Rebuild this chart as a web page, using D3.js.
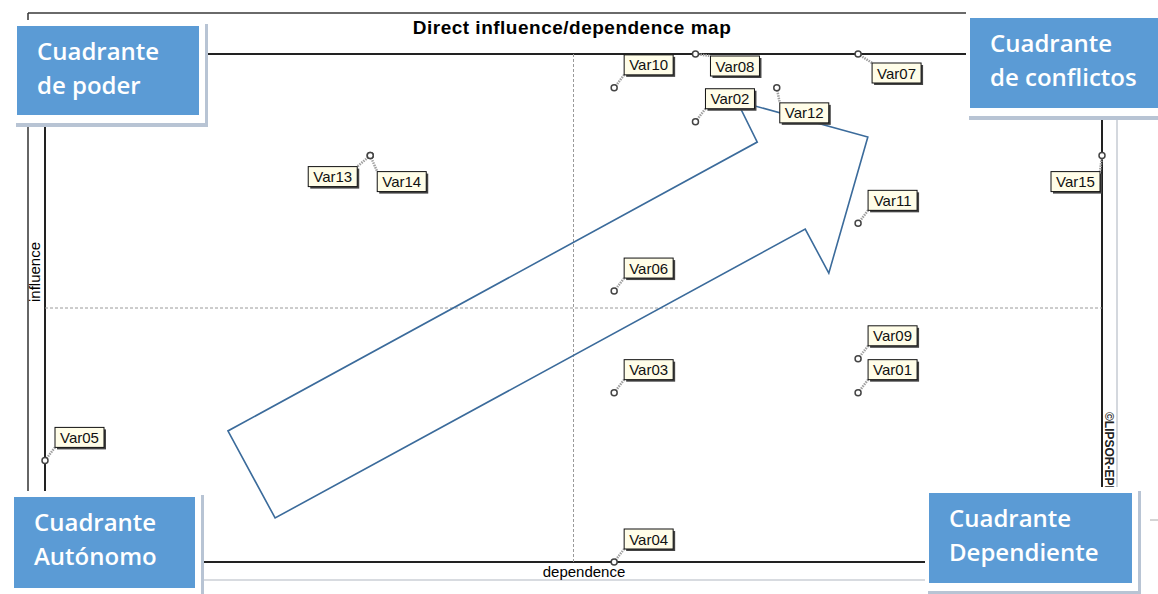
<!DOCTYPE html>
<meta charset="utf-8">
<html lang="es">

<head>
    <title>Direct influence/dependence map</title>
    <script src="https://d3js.org/d3.v7.min.js"></script>
    <style>
        body {
            margin: 0;
            background-color: #fff;
        }

        svg {
            display: block;
        }

        .frame line {
            stroke: #222;
            stroke-width: 1.5;
            shape-rendering: crispEdges;
        }

        .mid line {
            stroke: #9a9a9a;
            stroke-width: 1;
            stroke-dasharray: 3, 2;
        }

        .lbl text {
            font: 15px "Liberation Sans", Arial, sans-serif;
            fill: #111;
        }

        .quad text {
            font-family: "Open Sans", Lato, sans-serif;
            font-weight: 600;
            font-size: 24px;
            fill: #fff;
        }
    </style>
</head>

<body>
    <svg width="1158" height="594"></svg>
    <script>
        // Variables of the map
        var variables = ["Var01", "Var02", "Var03", "Var04", "Var05", "Var06", "Var07", "Var08",
            "Var09", "Var10", "Var11", "Var12", "Var13", "Var14", "Var15"];
        var dependence = [10, 8, 7, 7, 0, 7, 10, 8, 10, 7, 10, 9, 4, 4, 13];
        var influence = [5, 13, 5, 0, 3, 8, 15, 15, 6, 14, 10, 14, 12, 12, 12];

        // Axis ranges of the map
        var dependenceRange = [0, 13];
        var influenceRange = [0, 15];

        // Texts
        var chartTitle = "Direct influence/dependence map";
        var xTitle = "dependence";
        var yTitle = "influence";
        var credit = "\u00A9LIPSOR-EPITA-MICMAC";
        var quadrantTitles = [
            ["Cuadrante", "de poder"],
            ["Cuadrante", "de conflictos"],
            ["Cuadrante", "Autónomo"],
            ["Cuadrante", "Dependiente"]
        ];

        // Hand drawn arrow, in map units
        var arrowDep = [2.25, 2.83, 9.35, 9.64, 10.12, 8.51, 8.76];
        var arrowInf = [3.87, 1.30, 9.83, 8.53, 12.55, 13.61, 12.40];

        var svg = d3.select("svg"),
            margin = { top: 54, right: 56, bottom: 32, left: 45 },
            width = +svg.attr("width") - margin.left - margin.right,
            height = +svg.attr("height") - margin.top - margin.bottom;

        var x = d3.scaleLinear().domain(dependenceRange).range([margin.left, margin.left + width]);
        var y = d3.scaleLinear().domain(influenceRange).range([margin.top + height, margin.top]);

        // Where each label box sits compared to its point
        var labelOffset = {
            Var07: [14, 9], Var08: [15, 2], Var12: [3, 15],
            Var13: [-62, 11], Var14: [7, 16], Var15: [-51, 16]
        };
        var boxW = 49, boxH = 20;

        // Outer panel
        var outer = svg.append("g");
        outer.append("line").attr("x1", 28).attr("x2", 970).attr("y1", 13).attr("y2", 13)
            .style("stroke", "#6a6a6a").style("stroke-width", 2);
        outer.append("line").attr("x1", 28).attr("x2", 28).attr("y1", 13).attr("y2", 580)
            .style("stroke", "#333").style("stroke-width", 1.5);
        outer.append("line").attr("x1", 1117).attr("x2", 1117).attr("y1", 13).attr("y2", 580)
            .style("stroke", "#d4d8de").style("stroke-width", 2);
        outer.append("line").attr("x1", 28).attr("x2", 1117).attr("y1", 580).attr("y2", 580)
            .style("stroke", "#d8dbe0").style("stroke-width", 2);
        outer.append("line").attr("x1", 1150).attr("x2", 1158).attr("y1", 520).attr("y2", 520)
            .style("stroke", "#aaa").style("stroke-width", 1);

        // Plot frame
        var frame = svg.append("g").attr("class", "frame");
        [[x(dependenceRange[0]), y(influenceRange[1]), x(dependenceRange[1]), y(influenceRange[1])],
         [x(dependenceRange[0]), y(influenceRange[0]), x(dependenceRange[1]), y(influenceRange[0])],
         [x(dependenceRange[0]), y(influenceRange[0]), x(dependenceRange[0]), y(influenceRange[1])],
         [x(dependenceRange[1]), y(influenceRange[0]), x(dependenceRange[1]), y(influenceRange[1])]]
            .forEach(function (l) {
                frame.append("line").attr("x1", l[0]).attr("y1", l[1]).attr("x2", l[2]).attr("y2", l[3]);
            });

        // Middle dashed lines
        var midX = d3.mean(dependenceRange), midY = d3.mean(influenceRange);
        var mid = svg.append("g").attr("class", "mid");
        mid.append("line").attr("x1", x(midX)).attr("x2", x(midX))
            .attr("y1", y(influenceRange[0])).attr("y2", y(influenceRange[1]));
        mid.append("line").attr("x1", x(dependenceRange[0])).attr("x2", x(dependenceRange[1]))
            .attr("y1", y(midY)).attr("y2", y(midY));

        // Title and axis names
        svg.append("text")
            .attr("x", 572).attr("y", 34)
            .attr("text-anchor", "middle")
            .style("font", "bold 19px 'Liberation Sans', Arial, sans-serif")
            .style("letter-spacing", "0.5px")
            .text(chartTitle);

        svg.append("text")
            .attr("x", 584).attr("y", 577)
            .attr("text-anchor", "middle")
            .style("font", "15px 'Liberation Sans', Arial, sans-serif")
            .text(xTitle);

        svg.append("text")
            .attr("transform", "translate(40,272)rotate(-90)")
            .attr("text-anchor", "middle")
            .style("font", "15px 'Liberation Sans', Arial, sans-serif")
            .text(yTitle);

        svg.append("text")
            .attr("transform", "translate(1105,412)rotate(90)")
            .style("font", "bold 12px 'Liberation Sans', Arial, sans-serif")
            .style("fill", "#222")
            .text(credit);

        // Arrow
        var arrowPts = arrowDep.map(function (d, i) { return [x(d), y(arrowInf[i])]; });
        svg.append("path")
            .attr("d", d3.line()(arrowPts) + "Z")
            .style("fill", "none")
            .style("stroke", "#3b6b9b")
            .style("stroke-width", 1.6)
            .style("stroke-linejoin", "miter");

        // Points and their labels
        var data = variables.map(function (name, i) {
            var off = labelOffset[name] || [10, -33];
            var px = x(dependence[i]), py = y(influence[i]);
            return { name: name, px: px, py: py, bx: px + off[0], by: py + off[1] };
        });

        var lbl = svg.append("g").attr("class", "lbl");

        // leader lines, to the nearest point of the box
        lbl.selectAll(".leader")
            .data(data)
            .enter().append("line")
            .attr("x1", function (d) { return d.px; })
            .attr("y1", function (d) { return d.py; })
            .attr("x2", function (d) { return Math.max(d.bx, Math.min(d.px, d.bx + boxW)); })
            .attr("y2", function (d) { return Math.max(d.by, Math.min(d.py, d.by + boxH)); })
            .style("stroke", "#a0a0a0")
            .style("stroke-width", 2.5)
            .style("stroke-dasharray", "1.5,1");

        lbl.selectAll(".pt")
            .data(data)
            .enter().append("circle")
            .attr("cx", function (d) { return d.px; })
            .attr("cy", function (d) { return d.py; })
            .attr("r", 3)
            .style("fill", "#fff")
            .style("stroke", "#444")
            .style("stroke-width", 1.5);

        var box = lbl.selectAll(".box")
            .data(data)
            .enter().append("g")
            .attr("transform", function (d) { return "translate(" + d.bx + "," + d.by + ")"; });

        box.append("rect")
            .attr("x", 2).attr("y", 2)
            .attr("width", boxW).attr("height", boxH)
            .style("fill", "#444");

        box.append("rect")
            .attr("width", boxW).attr("height", boxH)
            .style("fill", "#fffde8")
            .style("stroke", "#111")
            .style("stroke-width", 1);

        box.append("text")
            .attr("x", boxW / 2).attr("y", 15.5)
            .attr("text-anchor", "middle")
            .text(function (d) { return d.name; });

        // Quadrant boxes (blue rectangle of each one)
        var quadBoxes = [
            { x: 17, y: 26, w: 182, h: 89 },
            { x: 970, y: 18, w: 200, h: 90 },
            { x: 14, y: 497, w: 181, h: 91 },
            { x: 929, y: 493, w: 203, h: 90 }
        ];

        var quad = svg.append("g").attr("class", "quad")
            .selectAll("g")
            .data(quadrantTitles)
            .enter().append("g")
            .attr("transform", function (d, i) {
                return "translate(" + quadBoxes[i].x + "," + quadBoxes[i].y + ")";
            });

        quad.append("rect")
            .attr("x", -1).attr("y", -2)
            .attr("width", function (d, i) { return quadBoxes[i].w + 10; })
            .attr("height", function (d, i) { return quadBoxes[i].h + 14; })
            .style("fill", "#b8c4d4");

        quad.append("rect")
            .attr("x", -4).attr("y", -6)
            .attr("width", function (d, i) { return quadBoxes[i].w + 10; })
            .attr("height", function (d, i) { return quadBoxes[i].h + 14; })
            .style("fill", "#fff");

        quad.append("rect")
            .attr("width", function (d, i) { return quadBoxes[i].w; })
            .attr("height", function (d, i) { return quadBoxes[i].h; })
            .style("fill", "#5b9bd5");

        quad.selectAll("text")
            .data(function (d) { return d; })
            .enter().append("text")
            .attr("x", 20)
            .attr("y", function (d, i) { return 34 + i * 34; })
            .text(function (d) { return d; });
    </script>
</body>

</html>
